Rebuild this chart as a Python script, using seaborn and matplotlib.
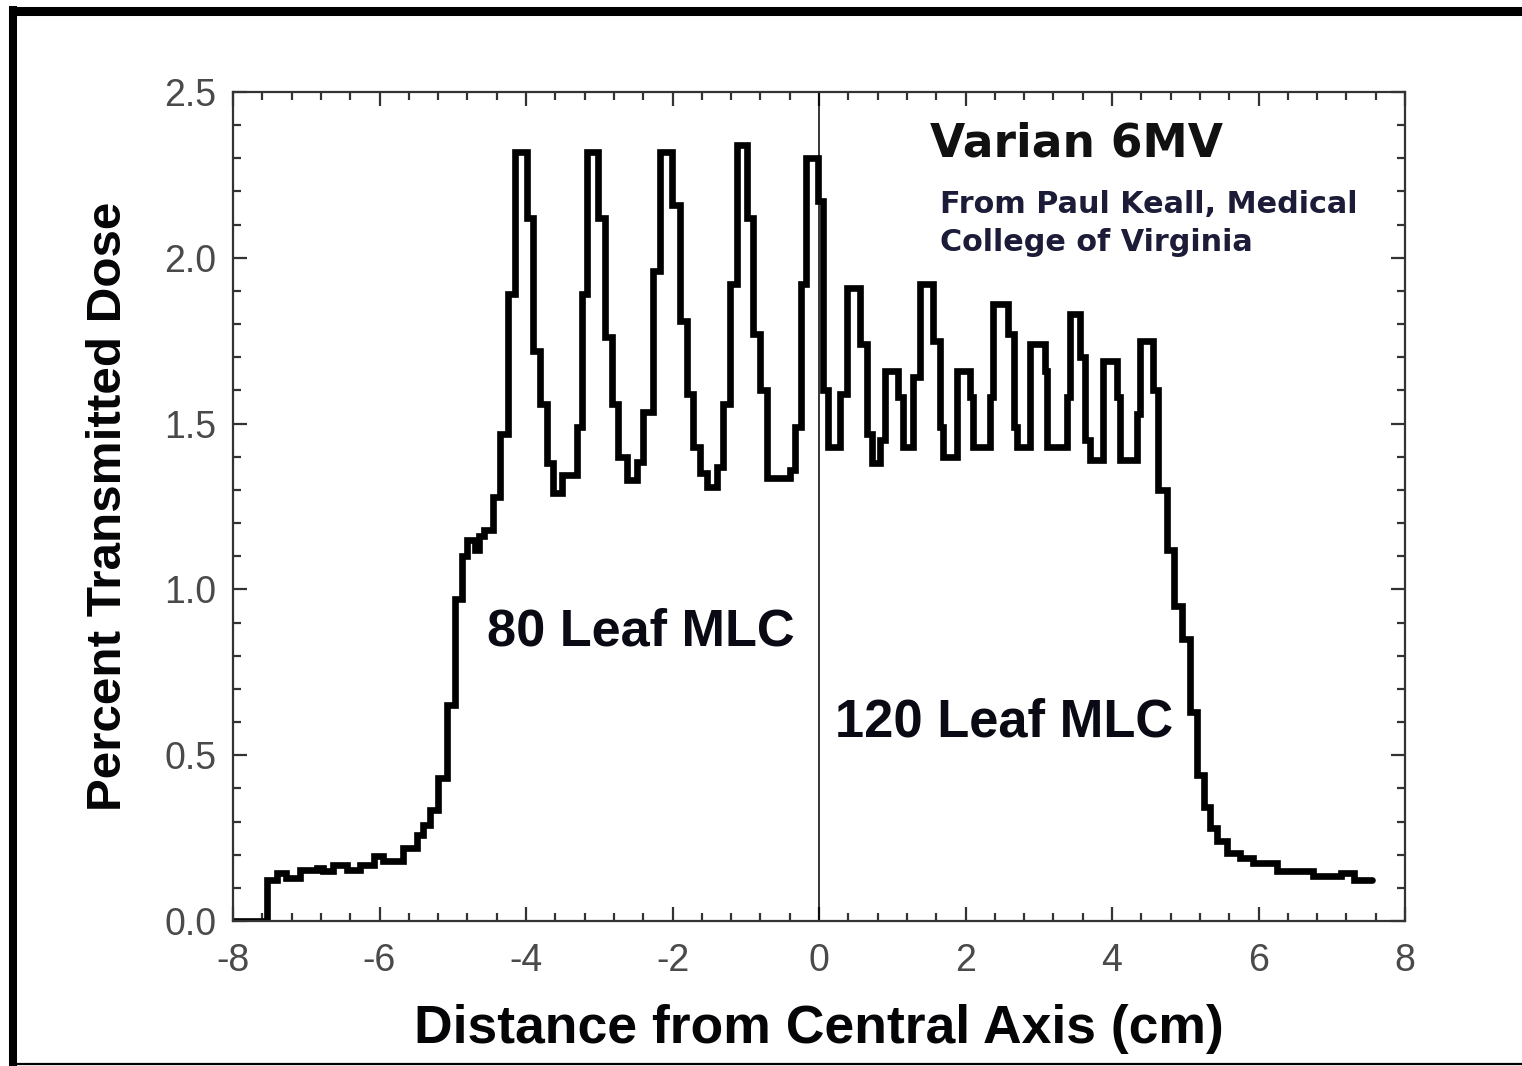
import matplotlib
matplotlib.use("Agg")
import matplotlib.pyplot as plt
from matplotlib.lines import Line2D
from matplotlib.ticker import MultipleLocator
import numpy as np
import pandas as pd
import seaborn as sns

# Transmitted dose profile across the MLC: left edge of each measurement step (cm)
step_left_cm = [
    -8.00, -7.54, -7.40, -7.27, -7.09, -6.86, -6.77, -6.63, -6.45, -6.27,
    -6.08, -5.95, -5.68, -5.49, -5.40, -5.31, -5.20, -5.08, -4.97, -4.88,
    -4.80, -4.70, -4.64, -4.58, -4.45, -4.35, -4.24, -4.15, -3.99, -3.90,
    -3.81, -3.71, -3.63, -3.51, -3.30, -3.23, -3.17, -3.02, -2.92, -2.83,
    -2.74, -2.62, -2.48, -2.40, -2.27, -2.17, -2.01, -1.90, -1.80, -1.72,
    -1.62, -1.53, -1.39, -1.31, -1.21, -1.12, -0.98, -0.90, -0.81, -0.71,
    -0.40, -0.33, -0.24, -0.18, -0.02, 0.06, 0.12, 0.28, 0.38, 0.56,
    0.65, 0.72, 0.83, 0.90, 1.08, 1.15, 1.28, 1.38, 1.56, 1.65,
    1.69, 1.88, 2.06, 2.10, 2.33, 2.38, 2.58, 2.66, 2.70, 2.88,
    3.08, 3.11, 3.38, 3.43, 3.56, 3.63, 3.70, 3.88, 4.07, 4.11,
    4.34, 4.38, 4.56, 4.63, 4.75, 4.84, 4.95, 5.07, 5.16, 5.25,
    5.34, 5.43, 5.57, 5.75, 5.93, 6.25, 6.75, 7.12, 7.30, 7.55,
]
# Percent transmitted dose on each step (last value closes the final step)
dose_pct = [
    0.000, 0.125, 0.145, 0.130, 0.155, 0.160, 0.150, 0.170, 0.155, 0.170,
    0.195, 0.180, 0.220, 0.260, 0.290, 0.335, 0.430, 0.650, 0.970, 1.100,
    1.150, 1.120, 1.160, 1.180, 1.280, 1.470, 1.890, 2.320, 2.120, 1.720,
    1.560, 1.380, 1.290, 1.345, 1.490, 1.890, 2.320, 2.120, 1.760, 1.560,
    1.400, 1.330, 1.385, 1.535, 1.960, 2.320, 2.160, 1.810, 1.590, 1.430,
    1.350, 1.310, 1.370, 1.560, 1.920, 2.340, 2.120, 1.770, 1.600, 1.335,
    1.360, 1.490, 1.920, 2.300, 2.170, 1.600, 1.430, 1.590, 1.910, 1.740,
    1.470, 1.380, 1.450, 1.660, 1.580, 1.430, 1.640, 1.920, 1.750, 1.490,
    1.400, 1.660, 1.580, 1.430, 1.580, 1.860, 1.770, 1.490, 1.430, 1.740,
    1.660, 1.430, 1.580, 1.830, 1.700, 1.450, 1.390, 1.690, 1.580, 1.390,
    1.530, 1.750, 1.600, 1.300, 1.120, 0.950, 0.850, 0.630, 0.440, 0.345,
    0.280, 0.240, 0.205, 0.190, 0.175, 0.150, 0.135, 0.146, 0.123, 0.123,
]

x_ticks = [-8, -6, -4, -2, 0, 2, 4, 6, 8]
y_ticks = [0.0, 0.5, 1.0, 1.5, 2.0, 2.5]

profile = pd.DataFrame({"distance": step_left_cm, "dose": dose_pct})

sns.set_theme(style="ticks")
plt.rcParams["font.family"] = ["Liberation Sans", "DejaVu Sans"]

fig = plt.figure(figsize=(15.22, 10.66), dpi=100)
ax = fig.add_axes([233 / 1522, 1 - 921 / 1066, (1405 - 233) / 1522, (921 - 92) / 1066])

sns.lineplot(data=profile, x="distance", y="dose", ax=ax, color="black",
             linewidth=4.8, drawstyle="steps-post", estimator=None, sort=False,
             solid_joinstyle="miter")
ax.axvline(0, color="black", linewidth=1.1, zorder=1)

ax.set_xlim(-8, 8)
ax.set_ylim(0, 2.5)
ax.set_xticks(x_ticks)
ax.set_yticks(y_ticks)
ax.set_xticklabels([f"{t:d}" for t in x_ticks])
ax.set_yticklabels([f"{t:.1f}" for t in y_ticks])
ax.xaxis.set_minor_locator(MultipleLocator(0.4))
ax.yaxis.set_minor_locator(MultipleLocator(0.1))
ax.tick_params(which="both", direction="in", top=True, right=True,
               width=1.6, color="#333333")
ax.tick_params(which="major", length=10, labelsize=27, labelcolor="#4a4a4a")
ax.tick_params(which="minor", length=6)
ax.tick_params(axis="x", which="major", pad=16)
ax.tick_params(axis="y", which="major", pad=12)
for side in ax.spines.values():
    side.set_linewidth(1.6)
    side.set_color("#333333")

ax.set_xlabel("Distance from Central Axis (cm)", fontsize=38.5, fontweight="bold",
              labelpad=18, color="#050508")
ax.set_ylabel("Percent Transmitted Dose", fontsize=35.6, fontweight="bold",
              labelpad=24, color="#050508")

ax.text(1.515, 2.305, "Varian 6MV", fontsize=32.8, fontweight="bold",
        family="DejaVu Sans", va="baseline", color="#111111")
ax.text(1.65, 2.135, "From Paul Keall, Medical", fontsize=21.8, fontweight="bold",
        family="DejaVu Sans", va="baseline", color="#1c1c38")
ax.text(1.65, 2.02, "College of Virginia", fontsize=21.8, fontweight="bold",
        family="DejaVu Sans", va="baseline", color="#1c1c38")
ax.text(-4.53, 0.83, "80 Leaf MLC", fontsize=37.6, fontweight="bold",
        va="baseline", color="#0a0a14")
ax.text(0.22, 0.555, "120 Leaf MLC", fontsize=37.8, fontweight="bold",
        va="baseline", color="#0a0a14")

# Outer frame around the whole figure
W, H = 1522, 1066
fig.add_artist(Line2D([9 / W, 1], [1 - 10.5 / H, 1 - 10.5 / H], color="black",
                      linewidth=6.5, solid_capstyle="butt",
                      transform=fig.transFigure))
fig.add_artist(Line2D([13 / W, 13 / W], [0, 1 - 6 / H], color="black",
                      linewidth=5.8, solid_capstyle="butt",
                      transform=fig.transFigure))
fig.add_artist(Line2D([9 / W, 1], [1 - 1063.5 / H, 1 - 1063.5 / H], color="black",
                      linewidth=1.6, solid_capstyle="butt",
                      transform=fig.transFigure))

fig.savefig("out.png", dpi=100, facecolor="white")
